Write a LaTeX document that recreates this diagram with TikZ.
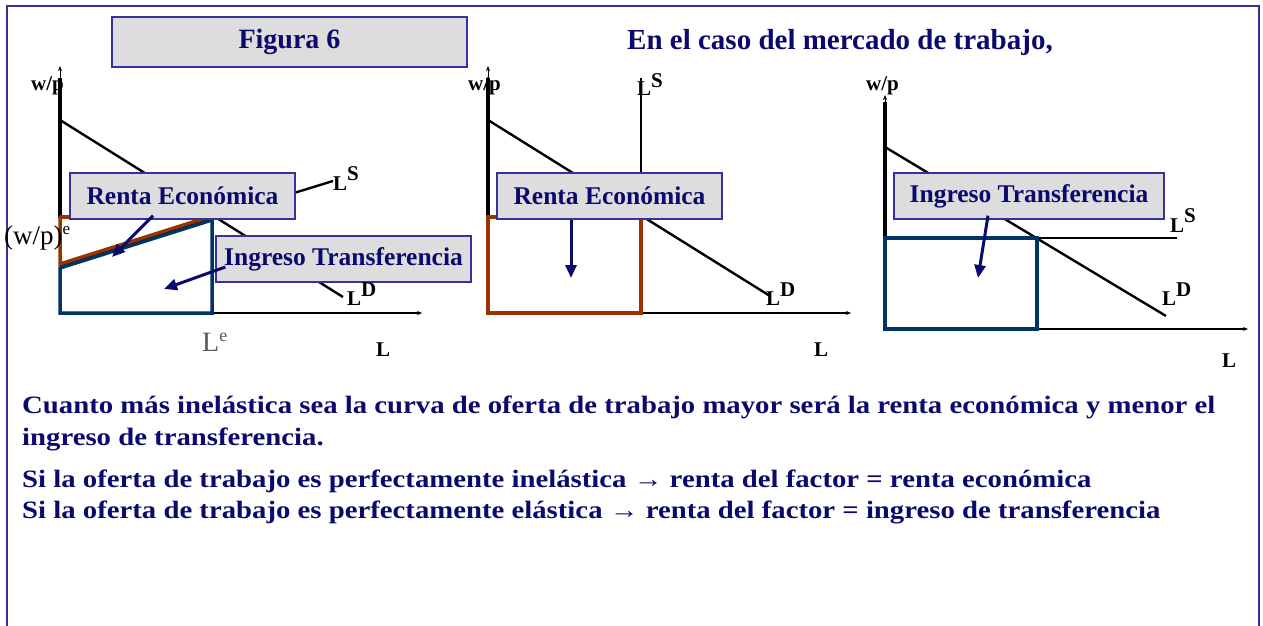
\documentclass[tikz,border=0pt]{standalone}
\usepackage{fontspec}
\setmainfont{Liberation Serif}
\newfontfamily\widefont[FakeStretch=1.15]{Liberation Serif}
\usetikzlibrary{arrows.meta,calc}
\definecolor{navy}{RGB}{10,10,110}
\definecolor{boxb}{RGB}{51,51,153}
\definecolor{boxf}{RGB}{221,221,221}
\definecolor{brn}{RGB}{153,51,0}
\definecolor{blu}{RGB}{0,51,102}
\tikzset{
  lbox/.style={draw=boxb,line width=1.3pt,fill=boxf,inner sep=0pt,
     text=navy,font=\fontsize{25.5}{28}\selectfont\bfseries},
  curve/.style={line width=2.4pt,black},
  yaxis/.style={line width=4pt,black},
  xaxis/.style={line width=2.8pt,black},
  thinax/.style={line width=0.8pt,black,-{Stealth[length=5pt,width=4pt]}},
  brnline/.style={line width=3.5pt,brn,line join=miter},
  bluline/.style={line width=3.5pt,blu,line join=miter},
  ptr/.style={line width=3pt,navy,-{Triangle[length=13pt,width=11pt]}},
  axlab/.style={inner sep=0pt,font=\fontsize{21}{23}\selectfont\bfseries},
  bodytxt/.style={inner sep=0pt,anchor=base west,text=navy,font=\widefont\fontsize{25}{28}\selectfont\bfseries},
}
\begin{document}
\begin{tikzpicture}[x=1pt,y=-1pt]
\useasboundingbox (0,0) rectangle (1263,626);
% frame
\draw[boxb,line width=1.5pt] (7,640) -- (7,6) -- (1259,6) -- (1259,640);
% title
\node[lbox,minimum width=355pt,minimum height=50pt,font=\fontsize{28}{30}\selectfont\bfseries] (fig) at (289.5,42) {Figura 6};
\node[inner sep=0pt,text=navy,font=\fontsize{29}{31}\selectfont\bfseries,anchor=base west] (tit) at (627,50) {En el caso del mercado de trabajo,};

% ===== Graph 1 =====
\coordinate (o1) at (60,313);
\coordinate (y1) at (60,66);
\coordinate (x1) at (422,313);
\draw[thinax] (o1) -- (y1);
\draw[yaxis] (60,78) -- (60,218);
\draw[thinax] (o1) -- (x1);
\draw[xaxis] (o1) -- (420,313);
\coordinate (d1a) at (60,120);
\coordinate (d1b) at (343,297);
\draw[curve] (d1a) -- (d1b);
\coordinate (s1a) at (60,265);
\coordinate (s1b) at (333,181);
\draw[curve] (s1a) -- (s1b);
\draw[brnline] (60,217) -- (212,217);
\draw[brnline] (60,216) -- (60,264) -- (212,216);
\draw[bluline] (60,268) -- (212,220) -- (212,313) -- (60,313) -- cycle;
\node[lbox,minimum width=225pt,minimum height=46pt] (re1) at (182.5,196) {Renta Económica};
\node[lbox,minimum width=255pt,minimum height=46pt] (it1) at (343.5,259) {Ingreso Transferencia};
\coordinate (re1t) at (112,257);
\coordinate (it1t) at (164,289);
\draw[ptr] ($(re1.south)+(-29.5,-4)$) -- (re1t);
\draw[ptr] ($(it1.west)+(10,8)$) -- (it1t);
\node[axlab,anchor=base west] (wp1) at (31,90) {w/p};
\node[axlab,anchor=base west] (L1) at (376,356) {L};
\node[axlab,anchor=base west] (LD1) at (347,305) {L\raisebox{9pt}{D}};
\node[axlab,anchor=base west] (LS1) at (333,190) {L\raisebox{10pt}{S}};
\node[inner sep=0pt,anchor=base west,font=\fontsize{27}{29}\selectfont] (wpe) at (4,244) {(w/p)\raisebox{10pt}{\fontsize{17}{18}\selectfont e}};
\node[inner sep=0pt,anchor=base west,text=black!65,font=\fontsize{28}{30}\selectfont] (Le) at (202,351) {L\raisebox{10pt}{\fontsize{18}{19}\selectfont e}};

% ===== Graph 2 =====
\coordinate (o2) at (488,313);
\coordinate (y2) at (488,66);
\coordinate (x2) at (851,313);
\draw[thinax] (o2) -- (y2);
\draw[yaxis] (488,78) -- (488,218);
\draw[thinax] (o2) -- (x2);
\draw[xaxis] (o2) -- (849,313);
\coordinate (d2a) at (488,120);
\coordinate (d2b) at (770,296);
\draw[curve] (d2a) -- (d2b);
\coordinate (s2a) at (641,313);
\coordinate (s2b) at (641,78);
\draw[curve] (s2a) -- (s2b);
\draw[brnline] (488,217) rectangle (641,313);
\node[lbox,minimum width=225pt,minimum height=46pt] (re2) at (609.5,196) {Renta Económica};
\coordinate (re2t) at (571,278);
\draw[ptr] (re2.south -| re2t) -- (re2t);
\node[axlab,anchor=base west] (wp2) at (468,90) {w/p};
\node[axlab,anchor=base west] (L2) at (814,356) {L};
\node[axlab,anchor=base west] (LD2) at (766,305) {L\raisebox{9pt}{D}};
\node[axlab,anchor=base west] (LS2) at (637,95) {L\raisebox{8pt}{S}};

% ===== Graph 3 =====
\coordinate (o3) at (885,329);
\coordinate (y3) at (885,95);
\coordinate (x3) at (1248,329);
\draw[thinax] (o3) -- (y3);
\draw[yaxis] (885,102) -- (885,238);
\draw[thinax] (o3) -- (x3);
\draw[xaxis] (o3) -- (1246,329);
\coordinate (d3a) at (885,147);
\coordinate (d3b) at (1166,316);
\draw[curve] (d3a) -- (d3b);
\coordinate (s3a) at (885,238);
\coordinate (s3b) at (1177,238);
\draw[curve] (s3a) -- (s3b);
\draw[bluline] (885,238) rectangle (1037,329);
\node[lbox,minimum width=270pt,minimum height=46pt] (it3) at (1029,196) {Ingreso Transferencia};
\coordinate (it3t) at (978,278);
\draw[ptr] ($(it3.south)+(-41,-4)$) -- (it3t);
\node[axlab,anchor=base west] (wp3) at (866,90) {w/p};
\node[axlab,anchor=base west] (L3) at (1222,367) {L};
\node[axlab,anchor=base west] (LD3) at (1162,305) {L\raisebox{9pt}{D}};
\node[axlab,anchor=base west] (LS3) at (1170,232) {L\raisebox{10pt}{S}};

% ===== text =====
\node[bodytxt] (t1) at (22,413) {Cuanto más inelástica sea la curva de oferta de trabajo mayor será la renta económica y menor el};
\node[bodytxt] (t2) at (22,445) {ingreso de transferencia.};
\node[bodytxt] (t3) at (22,487) {Si la oferta de trabajo es perfectamente inelástica → renta del factor = renta económica};
\node[bodytxt] (t4) at (22,518) {Si la oferta de trabajo es perfectamente elástica → renta del factor = ingreso de transferencia};
\end{tikzpicture}
\end{document}
